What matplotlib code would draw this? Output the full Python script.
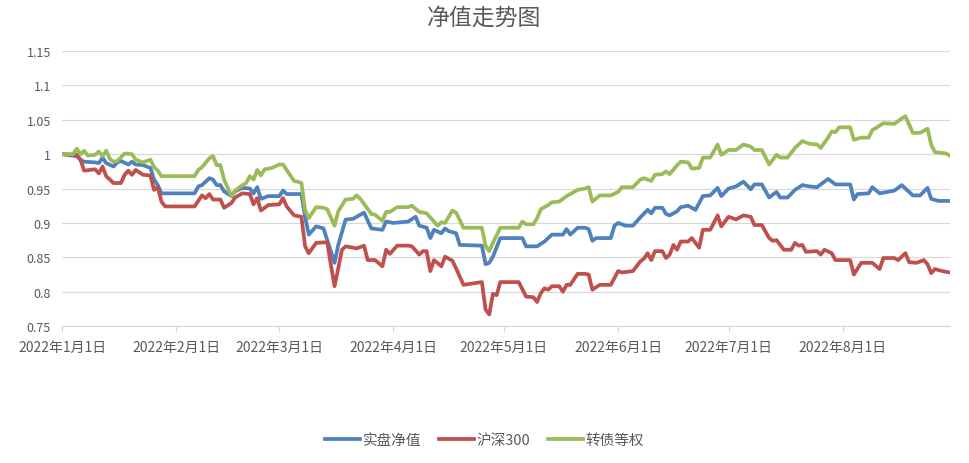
import numpy as np
import matplotlib
matplotlib.use("Agg")
import matplotlib.pyplot as plt
import matplotlib.dates as mdates
from matplotlib.ticker import FuncFormatter

plt.rcParams['font.family'] = ['Noto Sans CJK SC', 'DejaVu Sans']

# days counted from 2022-01-01
start = np.datetime64('2022-01-01')

real_days = [0, 4, 5, 6, 9, 10, 11, 12, 14, 15, 16, 18, 19, 20, 22, 24, 25, 26, 27, 36,
             37, 38, 40, 41, 42, 43, 44, 46, 47, 49, 51, 52, 53, 54, 56, 59, 60, 61, 65, 66,
             67, 69, 71, 73, 74, 75, 77, 79, 82, 84, 87, 88, 90, 94, 96, 97, 99, 100, 101, 103,
             104, 105, 107, 108, 114, 115, 116, 117, 119, 125, 126, 129, 131, 133, 136, 137, 138, 140, 142, 143,
             144, 145, 149, 150, 151, 153, 155, 157, 159, 160, 161, 163, 164, 165, 167, 168, 170, 172, 174, 176,
             178, 179, 181, 183, 185, 187, 188, 190, 192, 194, 195, 197, 199, 201, 203, 205, 206, 208, 210, 214,
             215, 216, 219, 220, 222, 226, 228, 231, 233, 235, 236, 238, 241]
real_nav = [1.000, 0.997, 0.992, 0.989, 0.988, 0.987, 0.995, 0.987, 0.982, 0.988, 0.990, 0.985, 0.989, 0.985, 0.984, 0.980, 0.963, 0.955, 0.943, 0.943,
            0.953, 0.955, 0.965, 0.963, 0.955, 0.955, 0.946, 0.939, 0.946, 0.951, 0.950, 0.943, 0.952, 0.935, 0.939, 0.939, 0.947, 0.942, 0.942, 0.909,
            0.883, 0.895, 0.892, 0.859, 0.842, 0.868, 0.905, 0.906, 0.915, 0.892, 0.890, 0.902, 0.900, 0.902, 0.909, 0.896, 0.893, 0.878, 0.890, 0.885,
            0.892, 0.888, 0.885, 0.868, 0.867, 0.840, 0.842, 0.851, 0.878, 0.878, 0.866, 0.866, 0.873, 0.883, 0.883, 0.891, 0.883, 0.893, 0.893, 0.891,
            0.874, 0.878, 0.878, 0.896, 0.900, 0.896, 0.896, 0.908, 0.919, 0.914, 0.922, 0.922, 0.913, 0.911, 0.917, 0.923, 0.925, 0.919, 0.939, 0.940,
            0.951, 0.939, 0.950, 0.953, 0.960, 0.949, 0.956, 0.956, 0.937, 0.945, 0.937, 0.937, 0.948, 0.955, 0.953, 0.952, 0.956, 0.964, 0.956, 0.956,
            0.934, 0.942, 0.943, 0.952, 0.943, 0.947, 0.955, 0.940, 0.940, 0.951, 0.935, 0.932, 0.932]

hs300_days = [0, 4, 5, 6, 9, 10, 11, 12, 14, 16, 17, 18, 19, 20, 22, 24, 25, 26, 27, 28,
              36, 38, 39, 40, 41, 43, 44, 46, 47, 49, 51, 52, 53, 54, 56, 59, 60, 61, 63, 65,
              66, 67, 69, 72, 73, 74, 75, 76, 77, 79, 80, 82, 83, 85, 87, 88, 89, 91, 94, 95,
              97, 98, 99, 100, 101, 103, 104, 106, 107, 109, 114, 115, 116, 117, 118, 119, 124, 126, 128, 129,
              130, 131, 132, 133, 135, 136, 137, 138, 140, 142, 143, 144, 146, 149, 151, 152, 155, 157, 158, 159,
              160, 161, 163, 164, 165, 166, 167, 168, 170, 171, 173, 174, 176, 178, 179, 181, 183, 185, 187, 188,
              190, 192, 193, 194, 196, 198, 199, 200, 201, 202, 205, 206, 207, 209, 210, 214, 215, 217, 220, 222,
              223, 226, 227, 229, 230, 232, 234, 235, 236, 237, 239, 241]
hs300_nav = [1.000, 0.999, 0.992, 0.976, 0.978, 0.972, 0.982, 0.968, 0.958, 0.958, 0.970, 0.976, 0.970, 0.977, 0.970, 0.969, 0.948, 0.952, 0.931, 0.924,
             0.924, 0.940, 0.936, 0.942, 0.934, 0.934, 0.922, 0.929, 0.937, 0.943, 0.942, 0.927, 0.936, 0.918, 0.926, 0.927, 0.936, 0.924, 0.911, 0.909,
             0.866, 0.856, 0.871, 0.872, 0.839, 0.808, 0.834, 0.861, 0.866, 0.864, 0.863, 0.867, 0.846, 0.846, 0.837, 0.861, 0.855, 0.867, 0.867, 0.866,
             0.854, 0.859, 0.859, 0.830, 0.846, 0.837, 0.851, 0.845, 0.834, 0.810, 0.814, 0.774, 0.767, 0.797, 0.795, 0.814, 0.814, 0.793, 0.792, 0.785,
             0.798, 0.805, 0.803, 0.808, 0.808, 0.800, 0.810, 0.810, 0.826, 0.826, 0.825, 0.803, 0.810, 0.810, 0.830, 0.828, 0.830, 0.844, 0.848, 0.856,
             0.846, 0.859, 0.859, 0.849, 0.854, 0.868, 0.861, 0.873, 0.873, 0.878, 0.864, 0.890, 0.890, 0.911, 0.895, 0.909, 0.905, 0.911, 0.909, 0.897,
             0.897, 0.878, 0.874, 0.875, 0.861, 0.861, 0.871, 0.867, 0.868, 0.858, 0.859, 0.854, 0.861, 0.856, 0.846, 0.846, 0.825, 0.842, 0.842, 0.833,
             0.849, 0.849, 0.846, 0.856, 0.843, 0.842, 0.846, 0.840, 0.827, 0.833, 0.830, 0.828]

cb_days = [0, 3, 4, 5, 6, 7, 9, 10, 11, 12, 13, 14, 15, 17, 19, 20, 22, 24, 25, 26,
           27, 36, 37, 38, 40, 41, 42, 43, 44, 46, 47, 49, 50, 51, 52, 53, 54, 55, 57, 59,
           60, 61, 63, 64, 65, 66, 67, 69, 71, 72, 74, 75, 77, 79, 80, 81, 84, 85, 87, 88,
           89, 91, 94, 95, 97, 99, 101, 102, 103, 104, 106, 107, 109, 114, 115, 116, 117, 119, 124, 125,
           126, 128, 129, 130, 132, 133, 135, 137, 138, 140, 142, 143, 144, 146, 149, 151, 152, 155, 157, 158,
           160, 161, 163, 164, 165, 167, 168, 170, 171, 173, 174, 176, 178, 179, 181, 183, 185, 187, 188, 190,
           192, 194, 195, 197, 199, 201, 203, 205, 206, 208, 209, 210, 211, 214, 215, 217, 219, 220, 221, 223,
           226, 228, 229, 231, 233, 235, 236, 237, 240, 241]
cb_nav = [1.000, 1.000, 1.008, 1.000, 1.005, 0.998, 0.999, 1.004, 0.997, 1.005, 0.993, 0.989, 0.990, 1.001, 1.000, 0.992, 0.988, 0.992, 0.981, 0.976,
          0.968, 0.968, 0.977, 0.981, 0.994, 0.997, 0.984, 0.984, 0.963, 0.939, 0.947, 0.955, 0.958, 0.968, 0.963, 0.977, 0.969, 0.978, 0.980, 0.985,
          0.985, 0.977, 0.961, 0.960, 0.958, 0.919, 0.907, 0.923, 0.922, 0.920, 0.896, 0.917, 0.934, 0.935, 0.940, 0.935, 0.913, 0.912, 0.903, 0.916,
          0.916, 0.923, 0.923, 0.925, 0.916, 0.914, 0.902, 0.896, 0.901, 0.900, 0.918, 0.915, 0.893, 0.893, 0.867, 0.859, 0.871, 0.893, 0.893, 0.902,
          0.898, 0.898, 0.907, 0.920, 0.926, 0.930, 0.931, 0.939, 0.942, 0.948, 0.950, 0.952, 0.931, 0.940, 0.940, 0.945, 0.952, 0.952, 0.963, 0.965,
          0.961, 0.970, 0.971, 0.975, 0.971, 0.984, 0.989, 0.988, 0.979, 0.980, 0.995, 0.995, 1.014, 0.999, 1.006, 1.006, 1.014, 1.011, 1.006, 1.006,
          0.985, 0.999, 0.995, 0.995, 1.009, 1.019, 1.015, 1.014, 1.009, 1.024, 1.033, 1.032, 1.039, 1.039, 1.021, 1.024, 1.024, 1.035, 1.038, 1.045,
          1.044, 1.052, 1.055, 1.031, 1.031, 1.037, 1.014, 1.003, 1.001, 0.998]

series = [
    ('实盘净值', real_days, real_nav, '#4F81BD'),
    ('沪深300', hs300_days, hs300_nav, '#C0504D'),
    ('转债等权', cb_days, cb_nav, '#9BBB59'),
]

fig = plt.figure(figsize=(9.69, 4.64), dpi=100)
ax = fig.add_axes([0.064, 0.295, 0.916, 0.593])

for name, days, vals, color in series:
    dates = start + np.array(days).astype('timedelta64[D]')
    ax.plot(dates, vals, color=color, lw=2.7, label=name, solid_joinstyle='round')

ax.set_ylim(0.75, 1.15)
ax.set_yticks(np.arange(0.75, 1.1501, 0.05))
ax.yaxis.set_major_formatter(FuncFormatter(lambda v, p: f'{v:.2f}'.rstrip('0').rstrip('.')))
ax.set_xlim(start, start + np.timedelta64(241, 'D'))
month_starts = [np.datetime64(f'2022-{m:02d}-01') for m in range(1, 9)]
ax.set_xticks(month_starts)
ax.xaxis.set_major_formatter(FuncFormatter(
    lambda v, p: f'{mdates.num2date(v).year}年{mdates.num2date(v).month}月{mdates.num2date(v).day}日'))

ax.grid(axis='y', color='#D9D9D9', lw=0.9)
ax.set_axisbelow(True)
for s in ['top', 'right', 'left']:
    ax.spines[s].set_visible(False)
ax.spines['bottom'].set_color('#D9D9D9')
ax.spines['bottom'].set_linewidth(0.9)
ax.tick_params(axis='y', length=0, pad=8, labelsize=9, labelcolor='#595959')
ax.tick_params(axis='x', length=4, width=0.9, color='#D9D9D9', pad=6, labelsize=10, labelcolor='#595959')

fig.suptitle('净值走势图', x=0.5, y=0.985, fontsize=16.5, color='#595959')

fig.legend(loc='center', bbox_to_anchor=(0.5, 0.05), ncol=3, frameon=False,
           fontsize=10.5, handlelength=2.4, handletextpad=0.2, columnspacing=1.2,
           labelcolor='#595959')

fig.savefig('out.png', dpi=100)
